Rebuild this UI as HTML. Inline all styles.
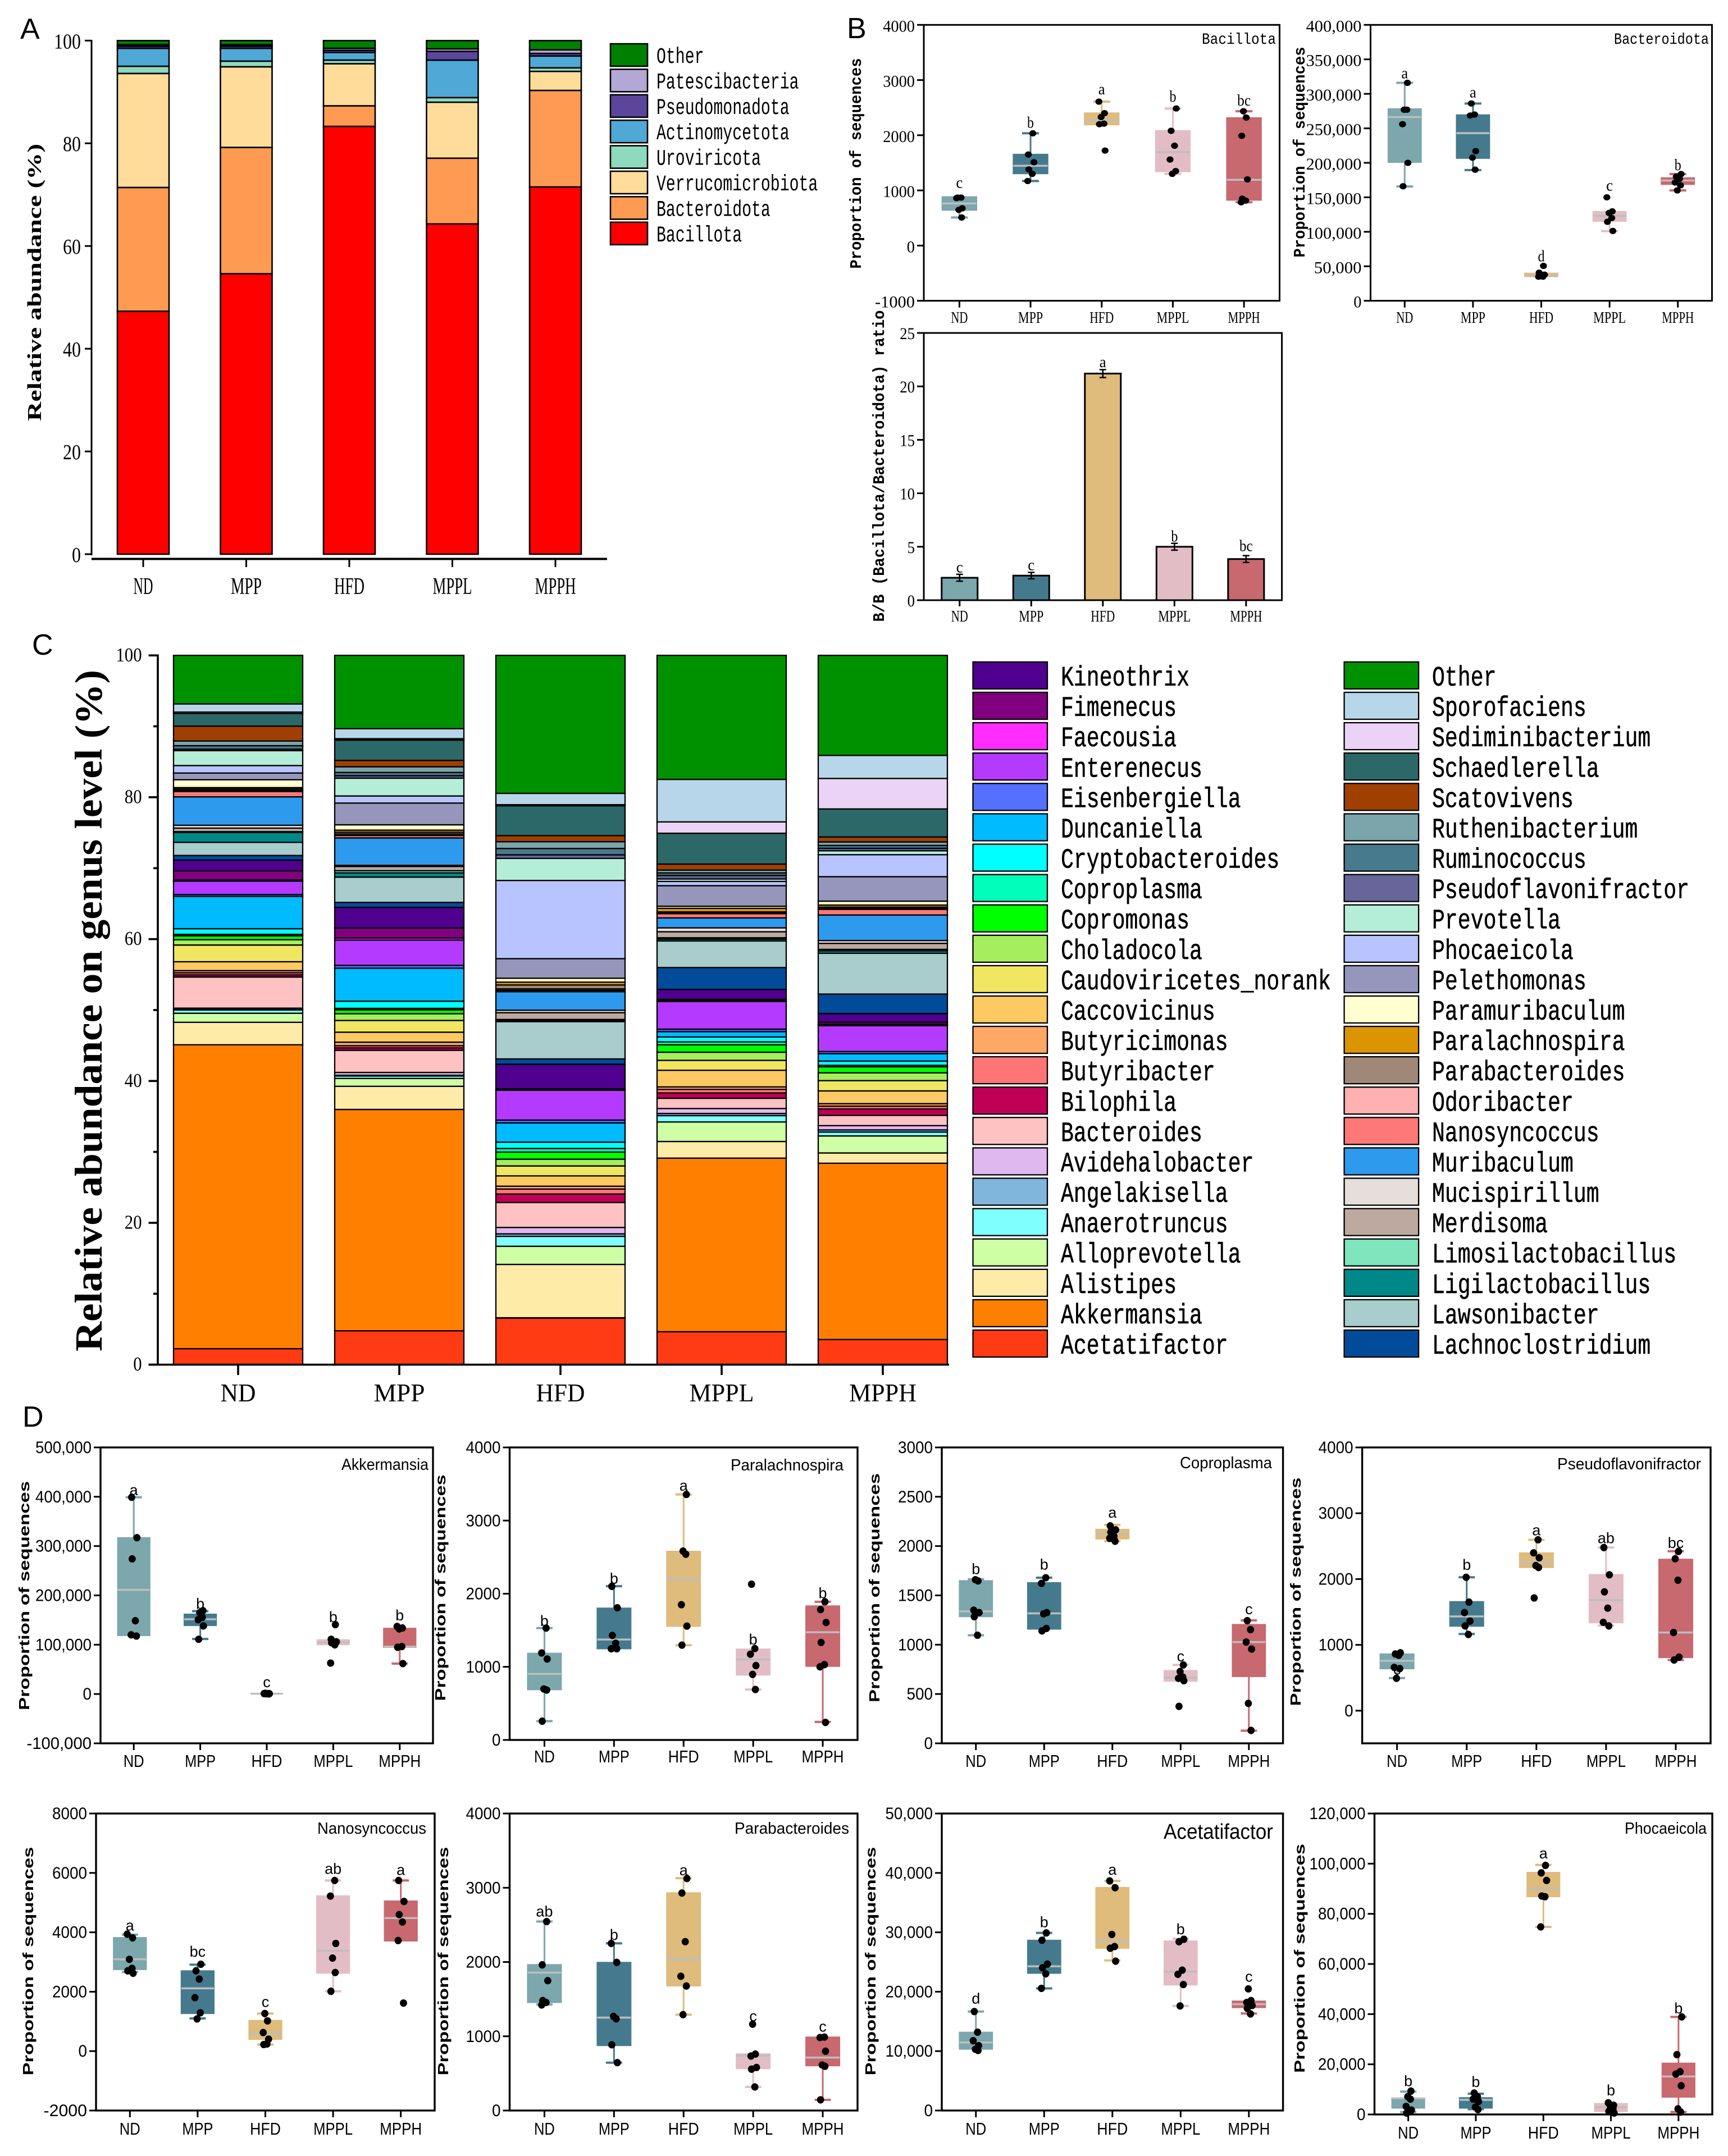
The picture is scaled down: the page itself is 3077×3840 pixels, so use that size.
<!DOCTYPE html>
<html lang="en">
<head>
<meta charset="utf-8">
<title>Gut microbiota composition panels</title>
<style>
html,body{margin:0;padding:0;background:#fff;}
svg{display:block;}
</style>
</head>
<body>
<svg id="figure" xmlns="http://www.w3.org/2000/svg" width="3077" height="3840" viewBox="0 0 3077 3840">
  <rect x="0" y="0" width="3077" height="3840" fill="#fff"/>
  <text x="36" y="69" font-family="'Liberation Sans',sans-serif" font-size="52">A</text>
  <text x="1508" y="68" font-family="'Liberation Sans',sans-serif" font-size="52">B</text>
  <text x="57" y="1166" font-family="'Liberation Sans',sans-serif" font-size="52">C</text>
  <text x="40" y="2541" font-family="'Liberation Sans',sans-serif" font-size="52">D</text>
  <g id="panelA"></g>
  <g id="panelB"></g>
  <g id="panelC"></g>
  <g id="panelD"></g>
</svg>
<script>
/* ---------- shared categories ---------- */
const groupLabels = ['ND', 'MPP', 'HFD', 'MPPL', 'MPPH'];

/* ---------- panel A data (bottom to top) ---------- */
const phylumNames = ['Bacillota', 'Bacteroidota', 'Verrucomicrobiota', 'Uroviricota', 'Actinomycetota', 'Pseudomonadota', 'Patescibacteria', 'Other'];
const phylumColors = ['#FF0000', '#FF9A52', '#FFDC99', '#8EDABF', '#4FA8D5', '#5B469C', '#B2A7D5', '#008000'];
const phylumND = [47.3, 24.1, 22.2, 1.4, 3.5, 0.4, 0.3, 0.8];
const phylumMPP = [54.6, 24.6, 15.7, 1.1, 2.5, 0.4, 0.3, 0.8];
const phylumHFD = [83.3, 4.0, 8.2, 0.7, 1.5, 0.4, 0.4, 1.5];
const phylumMPPL = [64.3, 12.8, 10.9, 0.9, 7.3, 1.7, 0.5, 1.6];
const phylumMPPH = [71.5, 18.8, 3.7, 0.7, 2.3, 0.5, 0.7, 1.8];
const phylumSeries = [phylumND, phylumMPP, phylumHFD, phylumMPPL, phylumMPPH];
const phylumTicks = [0, 20, 40, 60, 80, 100];

/* ---------- panel B data ---------- */
const bacillotaQ1 = [632, 1294, 2180, 1330, 814];
const bacillotaMedian = [763, 1446, 2275, 1693, 1192];
const bacillotaQ3 = [894, 1664, 2413, 2093, 2326];
const bacillotaLow = [509, 1170, 2180, 1300, 785];
const bacillotaHigh = [894, 2035, 2609, 2485, 2435];
const bacillotaPoints = [[870, 870, 860, 676, 647, 509], [2035, 1650, 1510, 1380, 1300, 1170], [2609, 2400, 2330, 2210, 2200, 1722], [2485, 2080, 1810, 1560, 1350, 1300], [2435, 2320, 1990, 1200, 850, 815, 785]];
const bacillotaLetters = ['c', 'b', 'a', 'b', 'bc'];
const bacillotaLetterLevels = [1046, 2136, 2740, 2608, 2536];
const bacillotaTicks = [-1000, 0, 1000, 2000, 3000, 4000];

const bacteroidotaQ1 = [200000, 205800, 34300, 114500, 168000];
const bacteroidotaMedian = [266300, 243000, 36000, 123000, 174400];
const bacteroidotaQ3 = [279000, 270300, 40700, 130200, 179000];
const bacteroidotaLow = [165700, 189500, 34300, 101000, 160000];
const bacteroidotaHigh = [316000, 286000, 40700, 130200, 183700];
const bacteroidotaPoints = [[316000, 277000, 277000, 256000, 200000, 166000], [286000, 270000, 268600, 217000, 207500, 190000], [50600, 40700, 37800, 36000, 34900, 34900], [150000, 129600, 127300, 120000, 114500, 101200], [183700, 180000, 176700, 171500, 167400, 160000]];
const bacteroidotaLetters = ['a', 'a', 'd', 'c', 'b'];
const bacteroidotaLetterLevels = [322700, 294800, 57000, 159900, 189500];
const bacteroidotaTicks = [0, 50000, 100000, 150000, 200000, 250000, 300000, 350000, 400000];

const ratioValues = [2.1, 2.3, 21.2, 5.0, 3.85];
const ratioErrors = [0.32, 0.3, 0.37, 0.32, 0.32];
const ratioLetters = ['c', 'c', 'a', 'b', 'bc'];
const ratioLetterLevels = [2.6, 2.8, 21.8, 5.5, 4.6];
const ratioTicks = [0, 5, 10, 15, 20, 25];

/* ---------- panel C data (bottom to top) ---------- */
const genusNames = ['Acetatifactor', 'Akkermansia', 'Alistipes', 'Alloprevotella', 'Anaerotruncus', 'Angelakisella', 'Avidehalobacter', 'Bacteroides', 'Bilophila', 'Butyribacter', 'Butyricimonas', 'Caccovicinus', 'Caudoviricetes_norank', 'Choladocola', 'Copromonas', 'Coproplasma', 'Cryptobacteroides', 'Duncaniella', 'Eisenbergiella', 'Enterenecus', 'Faecousia', 'Fimenecus', 'Kineothrix', 'Lachnoclostridium', 'Lawsonibacter', 'Ligilactobacillus', 'Limosilactobacillus', 'Merdisoma', 'Mucispirillum', 'Muribaculum', 'Nanosyncoccus', 'Odoribacter', 'Parabacteroides', 'Paralachnospira', 'Paramuribaculum', 'Pelethomonas', 'Phocaeicola', 'Prevotella', 'Pseudoflavonifractor', 'Ruminococcus', 'Ruthenibacterium', 'Scatovivens', 'Schaedlerella', 'Sediminibacterium', 'Sporofaciens', 'Other'];
const genusColors = ['#FF3B13', '#FF8000', '#FFEBA8', '#CFFFA5', '#80FFFF', '#80B5DC', '#E0B8F0', '#FFC2C2', '#BF0055', '#FF7575', '#FFA866', '#FCC962', '#F0E662', '#A5EE5E', '#00FF00', '#00FFBB', '#00FFFF', '#00BBFF', '#5570FF', '#B43AFF', '#FF2CFF', '#800080', '#4F008F', '#004C9A', '#A9CCCC', '#008888', '#7EE5BD', '#BDA9A0', '#E5DEDB', '#2D9AEE', '#FF7878', '#FFB0B0', '#A08878', '#DB9500', '#FFFFD0', '#9696BC', '#B8C4FF', '#B5EED8', '#66669A', '#467A8C', '#7AA5AB', '#A04000', '#2D6868', '#EBD3F5', '#B8D6EA', '#009100'];
const genusND = [2.25, 42.76, 3.16, 1.27, 0.47, 0.05, 0.2, 4.38, 0.3, 0.3, 0.3, 1.25, 2.35, 0.75, 0.55, 0.2, 0.8, 4.55, 0.25, 1.9, 0.15, 1.3, 1.5, 0.65, 1.85, 1.4, 0.1, 0.5, 0.4, 4.0, 0.75, 0.15, 0.2, 0.2, 1.1, 0.95, 1.05, 2.1, 0.2, 0.5, 0.65, 2.1, 1.77, 0.2, 1.15, 6.83];
const genusMPP = [4.76, 31.1, 3.25, 1.1, 0.35, 0.1, 0.4, 3.1, 0.35, 0.3, 0.5, 1.4, 1.65, 0.95, 0.55, 0.2, 1.0, 4.64, 0.4, 3.55, 0.3, 1.4, 2.9, 0.7, 3.55, 0.6, 0.3, 0.6, 0.15, 3.85, 0.35, 0.2, 0.25, 0.3, 0.75, 3.05, 1.0, 2.5, 0.35, 0.45, 0.8, 0.9, 2.85, 0.2, 1.4, 10.3];
const genusHFD = [6.55, 0.05, 7.5, 2.55, 1.4, 0.35, 0.9, 3.5, 1.2, 0.7, 0.4, 1.45, 1.4, 0.95, 1.0, 0.5, 0.9, 2.7, 0.4, 4.2, 0.05, 0.15, 3.45, 0.75, 5.25, 0.15, 0.15, 0.95, 0.35, 2.6, 0.2, 0.2, 0.55, 0.4, 0.55, 2.75, 11.0, 3.1, 0.5, 0.9, 0.95, 0.85, 4.2, 0.15, 1.6, 19.4];
const genusMPPL = [4.65, 24.5, 2.35, 2.75, 0.9, 0.3, 0.7, 1.45, 0.75, 0.5, 0.35, 2.35, 1.4, 1.15, 1.05, 0.4, 0.7, 0.75, 0.35, 3.9, 0.15, 0.15, 1.4, 3.1, 3.75, 0.25, 0.2, 0.85, 0.55, 1.4, 0.6, 0.1, 0.15, 0.5, 0.3, 2.9, 0.6, 0.35, 0.5, 0.35, 0.4, 0.85, 4.35, 1.6, 6.0, 17.5];
const genusMPPH = [3.55, 24.85, 1.45, 2.4, 0.55, 0.3, 0.6, 1.45, 0.9, 0.4, 0.35, 1.8, 1.45, 1.1, 0.85, 0.2, 0.6, 1.05, 0.3, 3.65, 0.2, 0.3, 1.2, 2.75, 5.75, 0.35, 0.2, 0.85, 0.4, 3.6, 0.8, 0.15, 0.15, 0.3, 0.55, 3.45, 3.1, 0.55, 0.35, 0.4, 0.5, 0.7, 3.95, 4.3, 3.25, 14.1];
const genusSeries = [genusND, genusMPP, genusHFD, genusMPPL, genusMPPH];
const genusMajorTicks = [0, 20, 40, 60, 80, 100];
const genusMinorTicks = [10, 30, 50, 70, 90];

/* ---------- panel D data ---------- */
const akkermansiaQ1 = [117500, 137800, 200, 98800, 93800];
const akkermansiaMedian = [211300, 151600, 600, 104700, 96300];
const akkermansiaQ3 = [318000, 163000, 1500, 111000, 134300];
const akkermansiaLow = [117500, 111600, 200, 98800, 61700];
const akkermansiaHigh = [399000, 168000, 1500, 111000, 134300];
const akkermansiaPoints = [[399000, 317000, 274000, 148600, 120000, 117500], [169000, 165000, 155500, 150600, 138000, 111000], [1500, 1000, 800, 600, 500, 300], [140700, 111000, 106000, 103700, 99700, 62700], [137000, 134000, 132000, 96300, 94800, 61700]];
const akkermansiaLetters = ['a', 'b', 'c', 'b', 'b'];
const akkermansiaLetterLevels = [403400, 172800, 13800, 145700, 149100];
const akkermansiaTicks = [-100000, 0, 100000, 200000, 300000, 400000, 500000];

const paralachnospiraQ1 = [680, 1240, 1547, 880, 1000];
const paralachnospiraMedian = [903, 1373, 2197, 1100, 1473];
const paralachnospiraQ3 = [1193, 1810, 2587, 1250, 1840];
const paralachnospiraLow = [257, 1240, 1297, 690, 247];
const paralachnospiraHigh = [1530, 2103, 3357, 1250, 1890];
const paralachnospiraPoints = [[1530, 1190, 1107, 697, 683, 257], [2100, 1807, 1430, 1323, 1247, 1247], [3357, 2583, 2540, 1850, 1557, 1297], [2130, 1250, 1173, 1017, 897, 690], [1890, 1783, 1607, 1333, 1030, 1000, 240]];
const paralachnospiraLetters = ['b', 'b', 'a', 'b', 'b'];
const paralachnospiraLetterLevels = [1557, 2140, 3407, 1307, 1940];
const paralachnospiraTicks = [0, 1000, 2000, 3000, 4000];

const coproplasmaQ1 = [1279, 1153, 2067, 625, 672];
const coproplasmaMedian = [1338, 1318, 2126, 667, 1027];
const coproplasmaQ3 = [1654, 1634, 2175, 743, 1210];
const coproplasmaLow = [1096, 1153, 2049, 625, 128];
const coproplasmaHigh = [1664, 1679, 2215, 795, 1247];
const coproplasmaPoints = [[1659, 1647, 1350, 1326, 1284, 1096], [1679, 1622, 1326, 1313, 1165, 1140], [2205, 2165, 2141, 2099, 2079, 2049], [795, 728, 672, 659, 635, 375], [1244, 1153, 1027, 956, 405, 131]];
const coproplasmaLetters = ['b', 'b', 'a', 'c', 'c'];
const coproplasmaLetterLevels = [1716, 1763, 2289, 832, 1309];
const coproplasmaTicks = [0, 500, 1000, 1500, 2000, 2500, 3000];

const pseudoflavoQ1 = [629, 1276, 2168, 1328, 799];
const pseudoflavoMedian = [758, 1432, 2257, 1680, 1188];
const pseudoflavoQ3 = [870, 1665, 2405, 2076, 2309];
const pseudoflavoLow = [496, 1165, 2168, 1295, 770];
const pseudoflavoHigh = [870, 2027, 2597, 2479, 2423];
const pseudoflavoPoints = [[880, 862, 843, 658, 640, 492], [2027, 1650, 1491, 1362, 1288, 1158], [2597, 2398, 2324, 2205, 2176, 1713], [2479, 2065, 1806, 1558, 1343, 1288], [2420, 2309, 1983, 1188, 814, 770]];
const pseudoflavoLetters = ['c', 'b', 'a', 'ab', 'bc'];
const pseudoflavoLetterLevels = [548, 2139, 2664, 2546, 2472];
const pseudoflavoTicks = [0, 1000, 2000, 3000, 4000];

const nanosyncoccusQ1 = [2729, 1249, 378, 2606, 3691];
const nanosyncoccusMedian = [3091, 2113, 608, 3378, 4480];
const nanosyncoccusQ3 = [3839, 2721, 1052, 5244, 5072];
const nanosyncoccusLow = [2663, 1101, 222, 2014, 3691];
const nanosyncoccusHigh = [3921, 2910, 1266, 5746, 5746];
const nanosyncoccusPoints = [[3938, 3814, 3091, 2787, 2704, 2622], [2926, 2704, 2425, 1800, 1290, 1085], [1266, 1019, 625, 403, 222, 240], [5746, 5220, 3625, 3132, 2647, 2014], [5746, 5039, 4595, 4348, 3724, 1619]];
const nanosyncoccusLetters = ['a', 'bc', 'c', 'ab', 'a'];
const nanosyncoccusLetterLevels = [4061, 3181, 1488, 5968, 5927];
const nanosyncoccusTicks = [-2000, 0, 2000, 4000, 6000, 8000];

const parabacteroidesQ1 = [1448, 868, 1671, 557, 596];
const parabacteroidesMedian = [1857, 1251, 2041, 740, 714];
const parabacteroidesQ3 = [1972, 2002, 2939, 770, 996];
const parabacteroidesLow = [1428, 645, 1291, 318, 144];
const parabacteroidesHigh = [2545, 2251, 3129, 770, 996];
const parabacteroidesPoints = [[2545, 1962, 1749, 1481, 1455, 1422], [2251, 1995, 1268, 1235, 885, 645], [3125, 2929, 2274, 1808, 1677, 1291], [1163, 760, 734, 580, 557, 318], [989, 983, 799, 613, 596, 144]];
const parabacteroidesLetters = ['ab', 'b', 'a', 'c', 'c'];
const parabacteroidesLetterLevels = [2611, 2300, 3168, 1202, 1061];
const parabacteroidesTicks = [0, 1000, 2000, 3000, 4000];

const acetatifactorQ1 = [10238, 23015, 27232, 21048, 17240];
const acetatifactorMedian = [11466, 24283, 28624, 23382, 17895];
const acetatifactorQ3 = [13268, 28750, 37633, 28624, 18509];
const acetatifactorLow = [10238, 20560, 25266, 17609, 16339];
const acetatifactorHigh = [16667, 29900, 38658, 28910, 18509];
const acetatifactorPoints = [[16667, 13186, 11753, 10934, 10320, 10115], [29900, 28665, 24650, 24038, 23015, 20560], [38658, 37510, 29650, 27600, 27314, 25143], [28830, 28420, 23630, 22932, 21212, 17609], [20475, 18509, 18180, 17690, 17200, 16257]];
const acetatifactorLetters = ['d', 'b', 'a', 'b', 'c'];
const acetatifactorLetterLevels = [18018, 30876, 39681, 29689, 21703];
const acetatifactorTicks = [0, 10000, 20000, 30000, 40000, 50000];

const phocaeicolaQ1 = [2328, 2328, 86621, 970, 6693];
const phocaeicolaMedian = [6402, 5820, 90113, 2910, 15132];
const phocaeicolaQ3 = [6693, 6887, 96709, 4559, 20661];
const phocaeicolaLow = [970, 2134, 74787, 970, 970];
const phocaeicolaHigh = [9118, 8245, 99522, 4559, 38897];
const phocaeicolaPoints = [[9312, 7081, 6111, 3201, 1746, 582], [8536, 7081, 6111, 5141, 2910, 1940], [99328, 96321, 93314, 87106, 86815, 74787], [4656, 3686, 3201, 2231, 1261, 582], [38897, 23862, 17072, 16102, 11446, 2231, 970]];
const phocaeicolaLetters = ['b', 'b', 'a', 'b', 'b'];
const phocaeicolaLetterLevels = [11252, 10961, 102141, 7566, 40255];
const phocaeicolaTicks = [0, 20000, 40000, 60000, 80000, 100000, 120000];

/* ---------- drawing helpers ---------- */
const SVG_NS = 'http://www.w3.org/2000/svg';
const MONO = "'Liberation Mono','Noto Sans CJK SC',monospace";
const SERIF = "'Liberation Serif',serif";
const SANS = "'Liberation Sans',sans-serif";
const groupColors = ['#7BA7AD', '#457A8E', '#DFBB7C', '#E3BDC5', '#C8686F'];
const medianColor = '#BEBEBE';

function shape(parent, tag, attrs, name) {
  const el = document.createElementNS(SVG_NS, tag);
  Object.keys(attrs).forEach(function (k) { el.setAttribute(k, attrs[k]); });
  
  
  parent.appendChild(el);
  return el;
}
function line(parent, x1, y1, x2, y2, w, color, name) {
  return shape(parent, 'line', { x1: x1, y1: y1, x2: x2, y2: y2, stroke: color, 'stroke-width': w }, name);
}
function label(parent, x, y, str, o, name) {
  const el = document.createElementNS(SVG_NS, 'text');
  el.setAttribute('x', x);
  el.setAttribute('y', y);
  el.setAttribute('font-family', o.family);
  el.setAttribute('font-size', o.size);
  el.setAttribute('fill', o.fill || '#000');
  if (o.anchor) el.setAttribute('text-anchor', o.anchor);
  if (o.weight) el.setAttribute('font-weight', o.weight);
  if (o.outline) {
    el.setAttribute('stroke', '#000');
    el.setAttribute('stroke-width', o.outline);
  }
  if (o.len) {
    el.setAttribute('textLength', o.len);
    el.setAttribute('lengthAdjust', 'spacingAndGlyphs');
  }
  if (o.rotate) el.setAttribute('transform', 'rotate(' + o.rotate + ' ' + x + ' ' + y + ')');
  el.textContent = str;
  
  
  parent.appendChild(el);
  return el;
}
function linear(d0, d1, r0, r1) {
  return function (v) { return r0 + (v - d0) / (d1 - d0) * (r1 - r0); };
}
function slug(s) { return String(s).toLowerCase().replace(/[^a-z0-9]+/g, '-'); }
function commaFormat(v) {
  const s = String(Math.abs(v)).replace(/\B(?=(\d{3})+$)/g, ',');
  return (v < 0 ? '-' : '') + s;
}
function jitter(chart, group, point, scale) {
  const pattern = [-3, 3, -5, 5, -1, 4, -4, 6];
  return pattern[(chart * 3 + group * 5 + point) % 8] * scale;
}

/* ---------- stacked bars ---------- */
function stackedBars(parent, series, names, colors, cfg) {
  series.forEach(function (values, g) {
    const total = values.reduce(function (a, b) { return a + b; }, 0);
    let cum = 0;
    const barGroup = shape(parent, 'g', {}, 'stack-' + slug(groupLabels[g]));
    values.forEach(function (v, i) {
      const top = cum + v;
      const y0 = cfg.y(cum / total * 100);
      const y1 = cfg.y(top / total * 100);
      shape(barGroup, 'rect', {
        x: cfg.x(g) - cfg.width / 2, y: y1, width: cfg.width, height: Math.max(0, y0 - y1),
        fill: colors[i], stroke: '#000', 'stroke-width': cfg.stroke
      }, 'segment-' + slug(names[i]) + '-' + slug(groupLabels[g]));
      cum = top;
    });
  });
}

/* ---------- panel A ---------- */
(function () {
  const root = document.getElementById('panelA');
  const yA = linear(0, 100, 987, 72.3);
  const xA = linear(0, 4, 255, 989);
  stackedBars(root, phylumSeries, phylumNames, phylumColors, { x: xA, y: yA, width: 92, stroke: 2.6 });
  line(root, 163, 71, 163, 989, 3, '#000', 'y-axis-line');
  line(root, 163, 995.5, 1081, 995.5, 4, '#000', 'x-axis-line');
  phylumTicks.forEach(function (t) {
    line(root, 151, yA(t), 163, yA(t), 3, '#000', 'y-tick-' + t);
    const s = String(t);
    label(root, 144, yA(t) + 14, s, { family: SERIF, size: 38, anchor: 'end', len: s.length * 16 }, 'y-tick-label-' + t);
  });
  const xLens = [35, 55, 54, 70, 73];
  groupLabels.forEach(function (g, i) {
    line(root, xA(i), 995, xA(i), 1010, 3, '#000', 'x-tick-' + slug(g));
    label(root, xA(i), 1058, g, { family: SERIF, size: 42, anchor: 'middle', len: xLens[i] }, 'x-tick-label-' + slug(g));
  });
  label(root, 73, 503, 'Relative abundance (%)', { family: SERIF, size: 35, weight: 'bold', anchor: 'middle', len: 494, rotate: -90 }, 'y-axis-title');
  const legendCount = phylumNames.length;
  for (let k = 0; k < legendCount; k++) {
    const i = legendCount - 1 - k;
    const ly = 78 + k * 45.4;
    shape(root, 'rect', { x: 1087, y: ly, width: 66, height: 40, fill: phylumColors[i], stroke: '#000', 'stroke-width': 2.6 }, 'legend-swatch-' + slug(phylumNames[i]));
    label(root, 1169, ly + 34, phylumNames[i], { family: MONO, size: 40, len: phylumNames[i].length * 16.9 }, 'legend-label-' + slug(phylumNames[i]));
  }
})();

/* ---------- box charts ---------- */
const styleB = {
  tickFamily: SERIF, tickSize: 30, tickBase: 12, tickW: 14.2, commaW: 13.7, xFamily: SERIF, xSize: 28,
  xLens: [30, 44, 43, 58, 57], titleFamily: MONO, titleSize: 29, titleWeight: 'bold',
  insetFamily: MONO, insetSize: 28, letterFamily: SERIF, letterSize: 29, letterW: 12, dotRx: 6.2, dotRy: 5.6, capW: 30, capH: 4, frame: 3
};
const styleD = {
  tickFamily: SANS, tickSize: 30, tickBase: 10, tickW: 15.5, commaW: 7, xFamily: SANS, xSize: 31,
  xLens: [37, 55, 55, 70, 75], titleFamily: SANS, titleSize: 26, titleWeight: 'bold',
  insetFamily: SANS, insetSize: 29, letterFamily: SANS, letterSize: 27, letterW: 0, dotRx: 6.4, dotRy: 6.6, capW: 29, capH: 4, frame: 3.4
};
function tickLength(s, st) {
  let n = 0;
  for (const c of s) { n += c === ',' ? st.commaW : st.tickW; }
  return n;
}
function boxChart(root, idx, c) {
  const st = c.style;
  const g = shape(root, 'g', {}, 'chart-' + slug(c.inset));
  const step = (c.right - c.left) / 5;
  const xAt = function (i) { return c.left + step * (i + 0.5); };
  const yAt = linear(c.domain[0], c.domain[1], c.bottom, c.top);
  const bw = step * 0.5;
  const jitterScale = step / 126;
  groupLabels.forEach(function (name, i) {
    const cx = xAt(i);
    const color = groupColors[i];
    const s = slug(name);
    line(g, cx, yAt(c.low[i]), cx, yAt(c.high[i]), 3, color, 'whisker-' + s);
    if (c.high[i] > c.q3[i]) line(g, cx - st.capW / 2, yAt(c.high[i]), cx + st.capW / 2, yAt(c.high[i]), st.capH, color, 'whisker-cap-high-' + s);
    if (c.low[i] < c.q1[i]) line(g, cx - st.capW / 2, yAt(c.low[i]), cx + st.capW / 2, yAt(c.low[i]), st.capH, color, 'whisker-cap-low-' + s);
    shape(g, 'rect', { x: cx - bw / 2, y: yAt(c.q3[i]), width: bw, height: Math.max(0, yAt(c.q1[i]) - yAt(c.q3[i])), fill: color }, 'box-' + s);
    line(g, cx - bw / 2 + 1, yAt(c.median[i]), cx + bw / 2 - 1, yAt(c.median[i]), 3.5, medianColor, 'median-' + s);
    c.points[i].forEach(function (v, p) {
      shape(g, 'ellipse', { cx: cx + jitter(idx, i, p, jitterScale), cy: yAt(v), rx: st.dotRx, ry: st.dotRy, fill: '#000' }, 'point-' + s);
    });
    const letterOpts = { family: st.letterFamily, size: st.letterSize, anchor: 'middle' };
    if (st.letterW) letterOpts.len = c.letters[i].length * st.letterW;
    label(g, cx, yAt(c.levels[i]), c.letters[i], letterOpts, 'significance-letter-' + s);
    line(g, cx, c.bottom, cx, c.bottom + 12, 3, '#000', 'x-tick-' + s);
    label(g, cx, c.xBase, name, { family: st.xFamily, size: st.xSize, anchor: 'middle', len: st.xLens[i] }, 'x-tick-label-' + s);
  });
  shape(g, 'rect', { x: c.left, y: c.top, width: c.right - c.left, height: c.bottom - c.top, fill: 'none', stroke: '#000', 'stroke-width': st.frame }, 'plot-frame');
  c.ticks.forEach(function (t) {
    const ty = yAt(t);
    line(g, c.left - 12, ty, c.left, ty, 3, '#000', 'y-tick-' + t);
    const s = c.comma ? commaFormat(t) : String(t);
    label(g, c.left - 16, ty + st.tickBase, s, { family: st.tickFamily, size: st.tickSize, anchor: 'end', len: tickLength(s, st) }, 'y-tick-label-' + t);
  });
  label(g, c.titleX, c.titleMid, 'Proportion of sequences', { family: st.titleFamily, size: st.titleSize, weight: st.titleWeight, anchor: 'middle', len: c.titleLen, rotate: -90 }, 'y-axis-title');
  label(g, c.insetX, c.insetY, c.inset, { family: st.insetFamily, size: c.insetSize || st.insetSize, len: c.insetLen }, 'inset-title-' + slug(c.inset));
}

/* ---------- panel B ---------- */
(function () {
  const root = document.getElementById('panelB');
  boxChart(root, 0, {
    style: styleB, inset: 'Bacillota', insetX: 2140, insetY: 78, insetLen: 132,
    left: 1645, right: 2278.5, top: 44.3, bottom: 535.7, domain: [-1000, 4000], ticks: bacillotaTicks, comma: false,
    q1: bacillotaQ1, median: bacillotaMedian, q3: bacillotaQ3, low: bacillotaLow, high: bacillotaHigh,
    points: bacillotaPoints, letters: bacillotaLetters, levels: bacillotaLetterLevels,
    xBase: 575, titleX: 1533, titleMid: 291, titleLen: 375
  });
  boxChart(root, 1, {
    style: styleB, inset: 'Bacteroidota', insetX: 2874, insetY: 78, insetLen: 169,
    left: 2440.5, right: 3048.5, top: 44.3, bottom: 535.7, domain: [0, 400000], ticks: bacteroidotaTicks, comma: true,
    q1: bacteroidotaQ1, median: bacteroidotaMedian, q3: bacteroidotaQ3, low: bacteroidotaLow, high: bacteroidotaHigh,
    points: bacteroidotaPoints, letters: bacteroidotaLetters, levels: bacteroidotaLetterLevels,
    xBase: 575, titleX: 2323, titleMid: 271, titleLen: 375
  });
  /* ratio bar chart */
  const g = shape(root, 'g', {}, 'chart-bb-ratio');
  const left = 1645, right = 2282.6, top = 593, bottom = 1069;
  const yR = linear(0, 25, bottom, top);
  const step = (right - left) / 5;
  const xR = function (i) { return left + step * (i + 0.5); };
  const lens = [30, 44, 43, 58, 57];
  groupLabels.forEach(function (name, i) {
    const s = slug(name);
    shape(g, 'rect', { x: xR(i) - 32, y: yR(ratioValues[i]), width: 64, height: bottom - yR(ratioValues[i]), fill: groupColors[i], stroke: '#000', 'stroke-width': 3 }, 'ratio-bar-' + s);
    const hi = yR(ratioValues[i] + ratioErrors[i]);
    const lo = yR(ratioValues[i] - ratioErrors[i]);
    line(g, xR(i), hi, xR(i), lo, 2.5, '#000', 'error-bar-' + s);
    line(g, xR(i) - 6, hi, xR(i) + 6, hi, 2.5, '#000', 'error-cap-high-' + s);
    line(g, xR(i) - 6, lo, xR(i) + 6, lo, 2.5, '#000', 'error-cap-low-' + s);
    label(g, xR(i), yR(ratioLetterLevels[i]), ratioLetters[i], { family: SERIF, size: 29, anchor: 'middle', len: ratioLetters[i].length * 12 }, 'significance-letter-' + s);
    line(g, xR(i), bottom, xR(i), bottom + 11, 3, '#000', 'x-tick-' + s);
    label(g, xR(i), 1107, name, { family: SERIF, size: 28, anchor: 'middle', len: lens[i] }, 'x-tick-label-' + s);
  });
  shape(g, 'rect', { x: left, y: top, width: right - left, height: bottom - top, fill: 'none', stroke: '#000', 'stroke-width': 3 }, 'plot-frame');
  ratioTicks.forEach(function (t) {
    line(g, left - 12, yR(t), left, yR(t), 3, '#000', 'y-tick-' + t);
    const s = String(t);
    label(g, left - 16, yR(t) + 11, s, { family: SERIF, size: 30, anchor: 'end', len: s.length * 13.4 }, 'y-tick-label-' + t);
  });
  label(g, 1574, 830, 'B/B (Bacillota/Bacteroidota) ratio', { family: MONO, size: 29, weight: 'bold', anchor: 'middle', len: 555, rotate: -90 }, 'y-axis-title');
})();

/* ---------- panel C ---------- */
(function () {
  const root = document.getElementById('panelC');
  const yC = linear(0, 100, 2430.6, 1167.3);
  const xC = linear(0, 4, 424, 1572);
  stackedBars(root, genusSeries, genusNames, genusColors, { x: xC, y: yC, width: 230, stroke: 2.3 });
  line(root, 281, 1165.5, 281, 2432, 3.6, '#000', 'y-axis-line');
  line(root, 264.6, 2430.6, 1690, 2430.6, 3.6, '#000', 'x-axis-line');
  genusMajorTicks.forEach(function (t) {
    line(root, 264.6, yC(t), 281, yC(t), 3.6, '#000', 'y-major-tick-' + t);
    const s = String(t);
    label(root, 252.6, yC(t) + 10.5, s, { family: SERIF, size: 35, anchor: 'end', len: s.length * 15.4 }, 'y-tick-label-' + t);
  });
  genusMinorTicks.forEach(function (t) {
    line(root, 273, yC(t), 281, yC(t), 3.6, '#000', 'y-minor-tick-' + t);
  });
  const xLens = [63, 91, 87, 115, 120];
  groupLabels.forEach(function (g, i) {
    line(root, xC(i), 2430, xC(i), 2449, 3.6, '#000', 'x-tick-' + slug(g));
    label(root, xC(i), 2496, g, { family: SERIF, size: 46, anchor: 'middle', len: xLens[i] }, 'x-tick-label-' + slug(g));
  });
  label(root, 181, 1800, 'Relative abundance on genus level (%)', { family: SERIF, size: 69, weight: 'bold', anchor: 'middle', len: 1214, rotate: -90 }, 'y-axis-title');
  const perColumn = 23;
  for (let k = 0; k < genusNames.length; k++) {
    const column = k < perColumn ? 0 : 1;
    const row = k < perColumn ? k : k - perColumn;
    const i = k < perColumn ? perColumn - 1 - k : genusNames.length - 1 - (k - perColumn);
    const sx = column === 0 ? 1732.5 : 2393.6;
    const tx = column === 0 ? 1889 : 2550;
    const sy = 1179 + row * 54.09;
    shape(root, 'rect', { x: sx, y: sy, width: 132.5, height: 48, fill: genusColors[i], stroke: '#000', 'stroke-width': 2.3 }, 'legend-swatch-' + slug(genusNames[i]));
    label(root, tx, sy + 42, genusNames[i], { family: MONO, size: 50, outline: 0.6, len: genusNames[i].length * 22.9 }, 'legend-label-' + slug(genusNames[i]));
  }
})();

/* ---------- panel D ---------- */
(function () {
  const root = document.getElementById('panelD');
  const rowOneTop = 2578, rowTwoTop = 3230;
  boxChart(root, 2, {
    style: styleD, inset: 'Akkermansia', insetX: 608, insetY: 2618, insetLen: 155,
    left: 179, right: 771, top: rowOneTop, bottom: 3105, domain: [-100000, 500000], ticks: akkermansiaTicks, comma: true,
    q1: akkermansiaQ1, median: akkermansiaMedian, q3: akkermansiaQ3, low: akkermansiaLow, high: akkermansiaHigh,
    points: akkermansiaPoints, letters: akkermansiaLetters, levels: akkermansiaLetterLevels,
    xBase: 3147, titleX: 52, titleMid: 2842, titleLen: 408
  });
  boxChart(root, 3, {
    style: styleD, inset: 'Paralachnospira', insetX: 1301, insetY: 2619, insetLen: 201,
    left: 907.5, right: 1527, top: rowOneTop, bottom: 3099, domain: [0, 4000], ticks: paralachnospiraTicks, comma: false,
    q1: paralachnospiraQ1, median: paralachnospiraMedian, q3: paralachnospiraQ3, low: paralachnospiraLow, high: paralachnospiraHigh,
    points: paralachnospiraPoints, letters: paralachnospiraLetters, levels: paralachnospiraLetterLevels,
    xBase: 3139, titleX: 793, titleMid: 2828, titleLen: 403
  });
  boxChart(root, 4, {
    style: styleD, inset: 'Coproplasma', insetX: 2101, insetY: 2615, insetLen: 164,
    left: 1677, right: 2284.6, top: rowOneTop, bottom: 3105, domain: [0, 3000], ticks: coproplasmaTicks, comma: false,
    q1: coproplasmaQ1, median: coproplasmaMedian, q3: coproplasmaQ3, low: coproplasmaLow, high: coproplasmaHigh,
    points: coproplasmaPoints, letters: coproplasmaLetters, levels: coproplasmaLetterLevels,
    xBase: 3147, titleX: 1566, titleMid: 2828, titleLen: 408
  });
  boxChart(root, 5, {
    style: styleD, inset: 'Pseudoflavonifractor', insetX: 2773, insetY: 2617, insetLen: 256,
    left: 2425.6, right: 3046, top: rowOneTop, bottom: 3105, domain: [-496, 4000], ticks: pseudoflavoTicks, comma: false,
    q1: pseudoflavoQ1, median: pseudoflavoMedian, q3: pseudoflavoQ3, low: pseudoflavoLow, high: pseudoflavoHigh,
    points: pseudoflavoPoints, letters: pseudoflavoLetters, levels: pseudoflavoLetterLevels,
    xBase: 3147, titleX: 2316, titleMid: 2835, titleLen: 407
  });
  boxChart(root, 6, {
    style: styleD, inset: 'Nanosyncoccus', insetX: 565, insetY: 3266, insetLen: 194,
    left: 171, right: 774, top: rowTwoTop, bottom: 3759, domain: [-2000, 8000], ticks: nanosyncoccusTicks, comma: false,
    q1: nanosyncoccusQ1, median: nanosyncoccusMedian, q3: nanosyncoccusQ3, low: nanosyncoccusLow, high: nanosyncoccusHigh,
    points: nanosyncoccusPoints, letters: nanosyncoccusLetters, levels: nanosyncoccusLetterLevels,
    xBase: 3802, titleX: 59, titleMid: 3493, titleLen: 407
  });
  boxChart(root, 7, {
    style: styleD, inset: 'Parabacteroides', insetX: 1308, insetY: 3266, insetLen: 204,
    left: 907.5, right: 1527, top: rowTwoTop, bottom: 3759, domain: [0, 4000], ticks: parabacteroidesTicks, comma: false,
    q1: parabacteroidesQ1, median: parabacteroidesMedian, q3: parabacteroidesQ3, low: parabacteroidesLow, high: parabacteroidesHigh,
    points: parabacteroidesPoints, letters: parabacteroidesLetters, levels: parabacteroidesLetterLevels,
    xBase: 3802, titleX: 798, titleMid: 3493, titleLen: 407
  });
  boxChart(root, 8, {
    style: styleD, inset: 'Acetatifactor', insetX: 2072, insetY: 3275, insetLen: 195, insetSize: 38,
    left: 1677, right: 2284.6, top: rowTwoTop, bottom: 3759, domain: [0, 50000], ticks: acetatifactorTicks, comma: true,
    q1: acetatifactorQ1, median: acetatifactorMedian, q3: acetatifactorQ3, low: acetatifactorLow, high: acetatifactorHigh,
    points: acetatifactorPoints, letters: acetatifactorLetters, levels: acetatifactorLetterLevels,
    xBase: 3802, titleX: 1559, titleMid: 3493, titleLen: 407
  });
  boxChart(root, 9, {
    style: styleD, inset: 'Phocaeicola', insetX: 2893, insetY: 3266, insetLen: 146,
    left: 2447.5, right: 3049, top: rowTwoTop, bottom: 3766, domain: [0, 120000], ticks: phocaeicolaTicks, comma: true,
    q1: phocaeicolaQ1, median: phocaeicolaMedian, q3: phocaeicolaQ3, low: phocaeicolaLow, high: phocaeicolaHigh,
    points: phocaeicolaPoints, letters: phocaeicolaLetters, levels: phocaeicolaLetterLevels,
    xBase: 3809, titleX: 2323, titleMid: 3488, titleLen: 408
  });
})();
</script>
</body>
</html>
